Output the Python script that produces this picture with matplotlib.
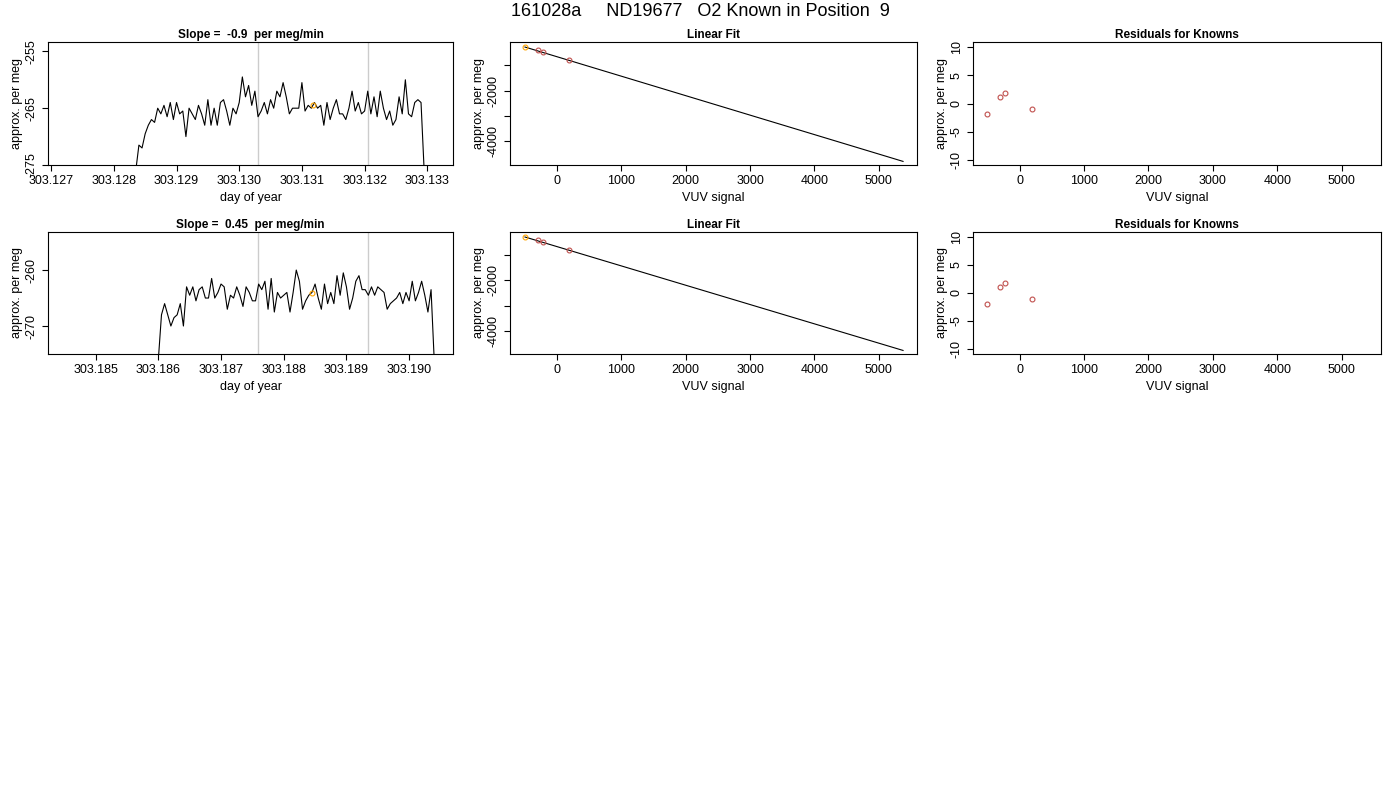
import numpy as np
import matplotlib
matplotlib.use("Agg")
import matplotlib.pyplot as plt

plt.rcParams['font.family'] = ['Liberation Sans', 'DejaVu Sans']
plt.rcParams['axes.unicode_minus'] = False

title = "161028a     ND19677   O2 Known in Position  9"

# Time series 1
t1_start, t1_step = 303.12835, 0.00005
v1 = [-276, -271.5, -272, -269.5, -268, -267, -267.5, -265, -266, -264.5, -266.5, -264, -267, -264, -266,
      -265.5, -270, -265, -266, -267, -264.5, -266, -268, -263.5, -268, -265, -268, -264, -263.5, -265.5,
      -268, -265, -266, -264, -259.5, -263, -261, -264.5, -262, -266.5, -265.5, -264, -266, -263.5, -265,
      -262, -263, -260.5, -263, -266, -265, -265, -265, -260.5, -265.5, -264.5, -265, -264, -265, -264.5,
      -268, -264, -267, -265, -263.5, -266, -266, -267, -265, -262, -265.5, -264, -266, -265.5, -262,
      -266, -263, -266.5, -262, -265, -267, -265.5, -268, -267, -263, -266, -260, -266, -266.5, -264,
      -263.5, -264, -276]
vlines1 = [303.1303, 303.13206]
known1 = (303.13117, -264.4)
slope1 = "-0.9"

# Time series 2
t2_start, t2_step = 303.18600, 0.00005
v2 = [-276, -268, -266, -268, -270, -268.5, -268, -266, -270, -263, -264.5, -263, -265.5, -263.5, -263,
      -265, -265, -261.5, -265, -264, -262.5, -263, -267, -264.5, -265, -263, -264.5, -266.5, -263, -264,
      -265.5, -265.5, -262.5, -263.5, -262, -267, -261.5, -267.5, -264, -265, -264.5, -264, -267.5, -264,
      -260, -262, -267, -265.5, -264.5, -264, -262.5, -265, -267, -262.5, -266, -264, -266, -261, -264.5,
      -260.5, -263, -267, -265, -262, -261, -263.5, -263.5, -264.5, -263, -264.5, -263, -263.5, -264,
      -267, -266, -265.5, -265, -264, -266, -264, -265.5, -262, -265.5, -264, -262, -264.5, -267.5,
      -263.5, -276]
vlines2 = [303.18759, 303.18934]
known2 = (303.18845, -264.1)
slope2 = "0.45"

# Linear fit / residuals
vuv = [-500, -300, -220, 190]
permeg = [-272, -404, -483, -788]
resid = [-1.9, 1.1, 1.8, -1.0]
fit_x = [-500, 5380]
fit_y = [-272, -4788]

fig = plt.figure(figsize=(14, 8), dpi=100)
fig.text(0.5, 1 - 11/800, title, ha='center', va='center', fontsize=13)

W, H = 1400, 800
def ax_at(x0, y0, x1, y1):
    return fig.add_axes([x0/W, 1 - y1/H, (x1-x0)/W, (y1-y0)/H])

def style(ax, t, xl):
    ax.set_title(t, fontsize=8.5, fontweight='bold', pad=3)
    ax.set_xlabel(xl, fontsize=9, labelpad=3)
    ax.set_ylabel('approx. per meg', fontsize=9, labelpad=2)
    ax.tick_params(labelsize=9, length=4, width=0.8, direction='out')
    for lab in ax.get_yticklabels():
        lab.set_rotation(90); lab.set_va('center')
    for s in ax.spines.values():
        s.set_linewidth(0.8)

rows = [(42, 165), (232, 354)]
series = [(t1_start, t1_step, v1, vlines1, known1, slope1, (303.12695, 303.13341), (-275, -253.35),
           [-255, -265, -275], [303.127 + 0.001*i for i in range(7)]),
          (t2_start, t2_step, v2, vlines2, known2, slope2, (303.18424, 303.1907), (-275, -253.2),
           [-260, -270], [303.185 + 0.001*i for i in range(6)])]

for (y0, y1), (ts, st, vals, vls, kn, sl, xlim, ylim, yt, xt) in zip(rows, series):
    ax = ax_at(48, y0, 453, y1)
    t = ts + st*np.arange(len(vals))
    for v in vls:
        ax.axvline(v, color='#cccccc', lw=1)
    ax.plot(t, vals, color='black', lw=0.8)
    ax.plot(*kn, 'o', mfc='none', mec='orange', ms=3.5, mew=0.8)
    ax.set_xlim(*xlim); ax.set_ylim(*ylim)
    ax.set_yticks(yt); ax.set_xticks(xt)
    ax.set_xticklabels([f"{x:.3f}" for x in xt])
    ax.set_yticklabels([str(v) for v in yt])
    style(ax, f"Slope =  {sl}  per meg/min", 'day of year')

    ax2 = ax_at(510, y0, 917, y1)
    ax2.plot(fit_x, fit_y, color='black', lw=0.8)
    ax2.plot(vuv[1:], permeg[1:], 'o', mfc='none', mec='#c0504d', ms=3.5, mew=0.8)
    ax2.plot(vuv[0], permeg[0], 'o', mfc='none', mec='orange', ms=3.5, mew=0.8)
    ax2.set_xlim(-733, 5597); ax2.set_ylim(-4930, -73)
    ax2.set_xticks(range(0, 6000, 1000))
    ax2.set_yticks([-1000, -2000, -3000, -4000])
    ax2.set_yticklabels(['', '-2000', '', '-4000'])
    style(ax2, 'Linear Fit', 'VUV signal')

    ax3 = ax_at(973, y0, 1381, y1)
    ax3.plot(vuv, resid, 'o', mfc='none', mec='#c0504d', ms=3.5, mew=0.8)
    ax3.set_xlim(-722, 5607); ax3.set_ylim(-10.9, 10.9)
    ax3.set_xticks(range(0, 6000, 1000))
    ax3.set_yticks([-10, -5, 0, 5, 10])
    style(ax3, 'Residuals for Knowns', 'VUV signal')

fig.savefig('out.png', dpi=100)
